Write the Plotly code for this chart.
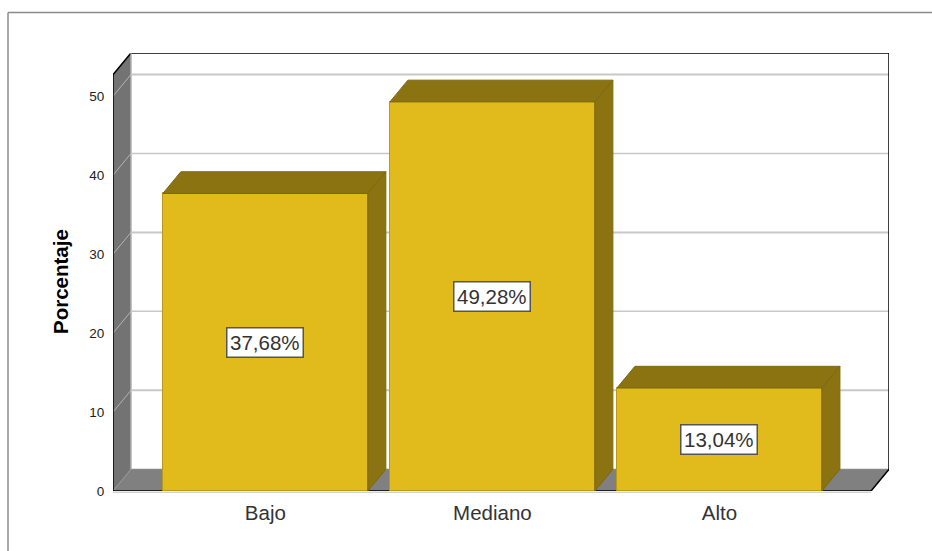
import plotly.graph_objects as go

categories = ["Bajo", "Mediano", "Alto"]
values = [37.68, 49.28, 13.04]
y_ticks = [0, 10, 20, 30, 40, 50]
y_title = "Porcentaje"

W, H = 932, 551
BAR_W = 0.903
DX, DY = 18 / 227, 21.7 / 7.89          # depth of the 3D effect in axis units
X0, X1 = -0.671, 2.747
Y_FRONT_TOP = 52.72
Y1 = Y_FRONT_TOP + DY
GOLD, DARK, DARK_EDGE = "#E0BB1B", "#8B7311", "#7D6810"
WALL, FLOOR, GRID = "#737373", "#808080", "#C8C8C8"
FONT = "Liberation Sans, Arial, sans-serif"
M_L, M_R, M_T, M_B = 113, 43, 53, 60
PW, PH = W - M_L - M_R, H - M_T - M_B


def poly(points, fill, line=None, width=1, layer="below"):
    path = "M" + " L".join(f"{x},{y}" for x, y in points) + " Z"
    return dict(type="path", path=path, xref="x", yref="y", fillcolor=fill, layer=layer,
                line=dict(color=line or fill, width=width))


def seg(x0, y0, x1, y1, color, width=1, layer="below"):
    return dict(type="line", xref="x", yref="y", x0=x0, y0=y0, x1=x1, y1=y1, layer=layer,
                line=dict(color=color, width=width))


xs = list(range(len(categories)))
fig = go.Figure()

fig.add_bar(x=xs, y=values, width=BAR_W, marker=dict(color=GOLD, line=dict(color="#B89A17", width=1)),
            hoverinfo="skip", showlegend=False)

for xc, v in zip(xs, values):
    l, r = xc - BAR_W / 2, xc + BAR_W / 2
    fig.add_scatter(x=[l, r, r + DX, l + DX, l], y=[v, v, v + DY, v + DY, v], mode="lines", fill="toself",
                    fillcolor=DARK, line=dict(color=DARK_EDGE, width=1), hoverinfo="skip", showlegend=False)
    fig.add_scatter(x=[r, r + DX, r + DX, r, r], y=[0, DY, v + DY, v, 0], mode="lines", fill="toself",
                    fillcolor=DARK, line=dict(color=DARK_EDGE, width=1), hoverinfo="skip", showlegend=False)

shapes = [
    poly([(X0, 0), (X0, Y_FRONT_TOP), (X0 + DX, Y1), (X0 + DX, DY)], WALL),
    poly([(X0, 0), (X0 + DX, DY), (X1, DY), (X1 - DX, 0)], FLOOR),
]
for t in y_ticks[1:]:
    shapes.append(seg(X0, t, X0 + DX, t + DY, "#B4B4B4", 1))
    shapes.append(seg(X0 + DX, t + DY, X1, t + DY, GRID, 2 if t in (10, 30, 50) else 1.5))
shapes.append(seg(X0, 0, X0 + DX, DY, "#9A9A9A", 1))
shapes += [
    seg(X0 + DX, Y1, X1, Y1, "#000000", 1.5),
    seg(X1, Y1, X1, DY, "#000000", 1.5),
    seg(X1, DY, X1 - DX, 0, "#000000", 1.5),
    seg(X0, 0, X1 - DX, 0, "#000000", 1.5),
    seg(X0, 0, X0, Y_FRONT_TOP, "#000000", 1.5),
    seg(X0, Y_FRONT_TOP, X0 + DX, Y1, "#000000", 1.5),
    seg(X0 + DX, DY, X0 + DX, Y1, "#D0D0D0", 1),
]
# outer frame of the chart viewer and the light line under the floor
fx = (8 - M_L) / PW
fy = (H - 12.5 - M_B) / PH
shapes += [
    dict(type="line", xref="paper", yref="paper", x0=fx, x1=(W - M_L) / PW, y0=fy, y1=fy,
         line=dict(color="#8C8C8C", width=1.5)),
    dict(type="line", xref="paper", yref="paper", x0=fx, x1=fx, y0=fy, y1=-M_B / PH,
         line=dict(color="#8C8C8C", width=1.5)),
    dict(type="line", xref="paper", yref="paper", x0=0, x1=(871 - M_L) / PW, y0=-1.2 / PH, y1=-1.2 / PH,
         line=dict(color="#BDBDBD", width=1)),
]

annotations = [
    dict(x=xc, y=v / 2, xref="x", yref="y", showarrow=False,
         text=f"{v:.2f}%".replace(".", ","), font=dict(family=FONT, size=20.5, color="#333333"),
         bgcolor="#FFFFFF", bordercolor="#555555", borderwidth=1.5, borderpad=2.5)
    for xc, v in zip(xs, values)
]
annotations.append(dict(x=(60 - M_L) / PW, y=(H - M_B - 282) / PH, xref="paper", yref="paper", showarrow=False,
                        xanchor="center", yanchor="middle", textangle=-90, text=f"<b>{y_title}</b>",
                        font=dict(family=FONT, size=20.5, color="#000000")))

fig.update_layout(
    width=W, height=H, autosize=False,
    margin=dict(l=M_L, r=M_R, t=M_T, b=M_B, pad=0),
    paper_bgcolor="#FFFFFF", plot_bgcolor="#FFFFFF",
    shapes=shapes, annotations=annotations, showlegend=False, bargap=0,
    font=dict(family=FONT, color="#222222"),
    xaxis=dict(range=[X0, X1], tickmode="array", tickvals=xs, ticktext=categories,
               tickfont=dict(size=20.5, color="#333333"), showgrid=False, zeroline=False,
               ticks="outside", ticklen=3, tickcolor="rgba(0,0,0,0)", showline=False),
    yaxis=dict(range=[0, Y1], tickmode="array", tickvals=y_ticks,
               tickfont=dict(size=13.5, color="#222222"), showgrid=False, zeroline=False,
               ticks="outside", ticklen=5, tickcolor="rgba(0,0,0,0)", showline=False),
)

fig.write_html("out.html", config=dict(displayModeBar=False),
               post_script="document.body.style.margin='0';document.body.style.overflow='hidden';")
